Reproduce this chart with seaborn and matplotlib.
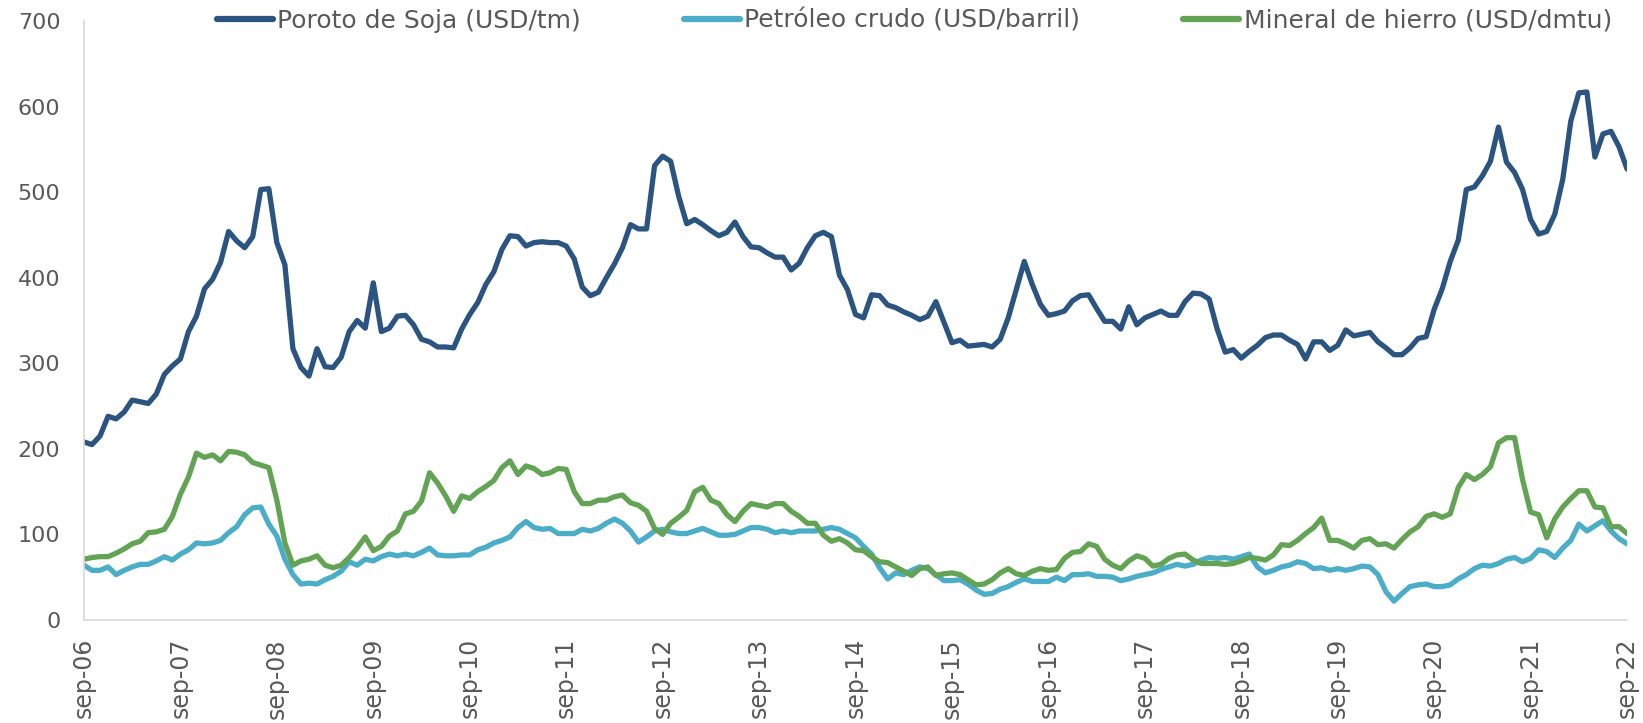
import matplotlib
matplotlib.use("Agg")
import matplotlib.pyplot as plt
import numpy as np
import pandas as pd
import seaborn as sns

# === data: monthly, sep-06 .. sep-22 ===
SOJA = [
    208, 205, 215, 238, 235, 243, 257, 255, 253, 264, 287, 297,
    305, 337, 355, 387, 398, 418, 454, 443, 435, 448, 503, 504,
    441, 415, 317, 295, 285, 317, 296, 295, 307, 337, 350, 341,
    394, 337, 341, 355, 356, 345, 328, 325, 319, 319, 318, 340,
    357, 371, 392, 407, 433, 449, 448, 437, 441, 442, 441, 441,
    437, 422, 389, 379, 383, 400, 416, 435, 462, 457, 457, 531,
    542, 536, 495, 463, 468, 462, 455, 449, 453, 465, 448, 436,
    435, 429, 424, 424, 409, 417, 435, 449, 453, 448, 403, 386,
    357, 353, 380, 379, 368, 365, 360, 356, 351, 355, 372, 348,
    324, 327, 320, 321, 322, 319, 328, 353, 386, 419, 392, 369,
    356, 358, 361, 373, 379, 380, 364, 349, 349, 340, 366, 345,
    353, 357, 361, 356, 356, 372, 382, 381, 375, 340, 313, 316,
    306, 314, 321, 330, 333, 333, 327, 322, 305, 325, 325, 315,
    321, 339, 332, 334, 336, 325, 318, 310, 310, 318, 329, 331,
    363, 387, 419, 444, 503, 506, 519, 536, 576, 535, 523, 503,
    468, 451, 454, 474, 515, 583, 616, 617, 541, 568, 571, 553,
    527,
]
PETROLEO = [
    64, 58, 58, 62, 53, 58, 62, 65, 65, 69, 74, 70,
    77, 82, 90, 89, 90, 93, 102, 109, 123, 131, 132, 112,
    98, 71, 53, 42, 43, 42, 47, 51, 57, 68, 64, 71,
    69, 74, 77, 75, 77, 75, 79, 84, 76, 75, 75, 76,
    76, 82, 85, 90, 93, 97, 108, 115, 108, 106, 107, 101,
    101, 101, 106, 104, 107, 113, 118, 113, 104, 91, 97, 104,
    106, 103, 101, 101, 104, 107, 103, 99, 99, 100, 104, 108,
    108, 106, 102, 104, 102, 104, 104, 104, 106, 108, 106, 101,
    96, 86, 77, 61, 48, 55, 53, 58, 62, 60, 53, 46,
    46, 47, 42, 35, 30, 31, 36, 39, 44, 48, 45, 45,
    45, 50, 46, 53, 53, 54, 51, 51, 50, 46, 48, 51,
    53, 55, 59, 62, 65, 63, 65, 70, 73, 72, 73, 71,
    74, 77, 62, 55, 58, 62, 64, 68, 66, 60, 61, 58,
    60, 58, 60, 63, 62, 53, 33, 22, 31, 39, 41, 42,
    39, 39, 41, 48, 53, 60, 64, 63, 66, 71, 73, 68,
    72, 82, 80, 73, 84, 93, 112, 104, 110, 116, 104, 95,
    89,
]
HIERRO = [
    71, 73, 74, 74, 78, 83, 89, 92, 102, 103, 106, 121,
    147, 167, 195, 190, 193, 186, 197, 196, 193, 184, 181, 178,
    140, 90, 64, 69, 71, 75, 64, 61, 64, 73, 84, 97,
    81, 86, 98, 104, 124, 127, 139, 172, 160, 145, 127, 145,
    142, 150, 156, 163, 178, 186, 170, 180, 177, 170, 172, 177,
    176, 150, 136, 136, 140, 140, 144, 146, 137, 134, 127, 107,
    100, 113, 120, 128, 150, 155, 140, 136, 123, 115, 127, 136,
    134, 132, 136, 136, 127, 121, 113, 113, 99, 92, 95, 90,
    82, 81, 74, 68, 67, 62, 57, 52, 60, 62, 52, 54,
    55, 53, 47, 41, 42, 47, 55, 60, 54, 52, 57, 60,
    58, 59, 72, 79, 80, 89, 86, 71, 64, 60, 69, 75,
    72, 63, 65, 72, 76, 77, 70, 66, 66, 66, 65, 66,
    69, 73, 72, 70, 76, 88, 87, 93, 101, 108, 119, 93,
    93, 89, 84, 93, 95, 88, 89, 84, 94, 103, 109, 121,
    124, 120, 124, 155, 170, 164, 170, 179, 207, 213, 213, 164,
    126, 123, 96, 118, 132, 142, 151, 151, 132, 131, 109, 109,
    101,
]
SERIES = ["Poroto de Soja (USD/tm)", "Petróleo crudo (USD/barril)", "Mineral de hierro (USD/dmtu)"]
COLORS = ["#2B5580", "#4BADC8", "#63A354"]
TICK_LABELS = ["sep-%02d" % y for y in range(6, 23)]

TEXT_COLOR = "#595959"
AXIS_COLOR = "#D9D9D9"

n = len(SOJA)
df = pd.DataFrame({"mes": np.arange(n), SERIES[0]: SOJA, SERIES[1]: PETROLEO, SERIES[2]: HIERRO})
df = df.melt(id_vars="mes", var_name="serie", value_name="valor")

sns.set_style("white")
plt.rcParams["font.family"] = ["DejaVu Sans"]

fig, ax = plt.subplots(figsize=(16.43, 7.23), dpi=100)
fig.subplots_adjust(left=0.0511, right=0.9903, bottom=0.1425, top=0.971)

sns.lineplot(data=df, x="mes", y="valor", hue="serie", hue_order=SERIES,
             palette=COLORS, linewidth=3.8, ax=ax)

ax.set_xlim(0, n - 1)
ax.set_ylim(0, 700)
ax.set_yticks(np.arange(0, 701, 100))
ax.set_xticks(np.arange(0, n, 12))
ax.set_xticklabels(TICK_LABELS, rotation=90)
ax.set_xlabel("")
ax.set_ylabel("")
ax.tick_params(axis="y", length=0, pad=17, labelsize=16, labelcolor=TEXT_COLOR)
ax.tick_params(axis="x", length=0, pad=13, labelsize=17, labelcolor=TEXT_COLOR)

for side in ["top", "right"]:
    ax.spines[side].set_visible(False)
for side in ["left", "bottom"]:
    ax.spines[side].set_color(AXIS_COLOR)
    ax.spines[side].set_linewidth(1.2)

handles, labels = ax.get_legend_handles_labels()
leg = ax.legend(handles, labels, loc="center", bbox_to_anchor=(0.538, 1.0), ncol=3,
                frameon=False, fontsize=18, handlelength=2.25, handletextpad=0.18,
                columnspacing=4.1, labelcolor=TEXT_COLOR)
for h in leg.legend_handles:
    h.set_linewidth(4.5)
    h.set_solid_capstyle("round")

fig.savefig("out.png", dpi=100)
